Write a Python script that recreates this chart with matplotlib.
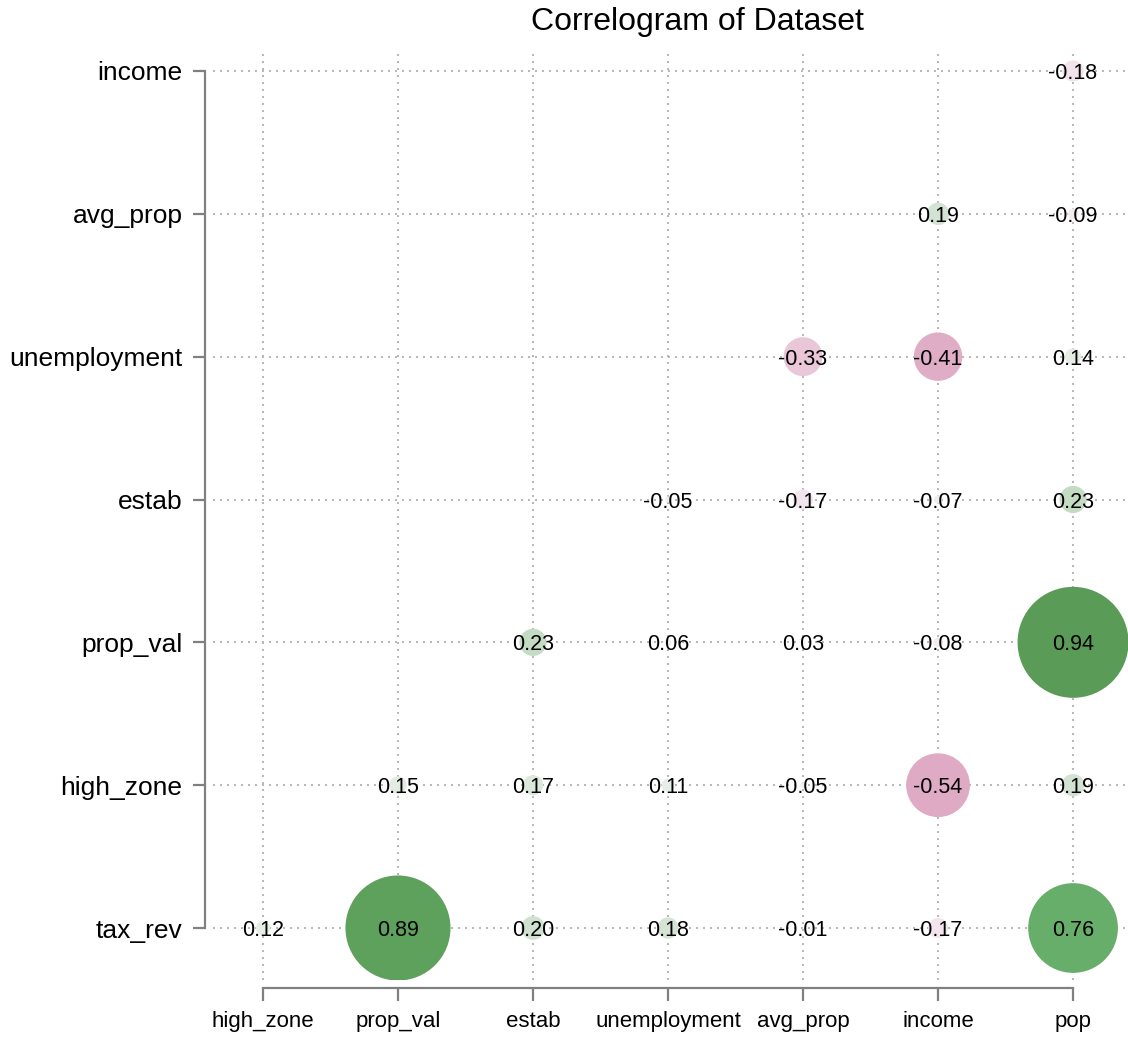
import matplotlib
matplotlib.use('Agg')
import matplotlib.pyplot as plt
from matplotlib.colors import LinearSegmentedColormap

plt.rcParams['font.family'] = ['Liberation Sans', 'DejaVu Sans']

x_labels = ['high_zone', 'prop_val', 'estab', 'unemployment', 'avg_prop', 'income', 'pop']
y_labels = ['tax_rev', 'high_zone', 'prop_val', 'estab', 'unemployment', 'avg_prop', 'income']

# (row, column, correlation)
cells = [
    ('income', 'pop', -0.18),
    ('avg_prop', 'income', 0.19),
    ('avg_prop', 'pop', -0.09),
    ('unemployment', 'avg_prop', -0.33),
    ('unemployment', 'income', -0.41),
    ('unemployment', 'pop', 0.14),
    ('estab', 'unemployment', -0.05),
    ('estab', 'avg_prop', -0.17),
    ('estab', 'income', -0.07),
    ('estab', 'pop', 0.23),
    ('prop_val', 'estab', 0.23),
    ('prop_val', 'unemployment', 0.06),
    ('prop_val', 'avg_prop', 0.03),
    ('prop_val', 'income', -0.08),
    ('prop_val', 'pop', 0.94),
    ('high_zone', 'prop_val', 0.15),
    ('high_zone', 'estab', 0.17),
    ('high_zone', 'unemployment', 0.11),
    ('high_zone', 'avg_prop', -0.05),
    ('high_zone', 'income', -0.54),
    ('high_zone', 'pop', 0.19),
    ('tax_rev', 'high_zone', 0.12),
    ('tax_rev', 'prop_val', 0.89),
    ('tax_rev', 'estab', 0.20),
    ('tax_rev', 'unemployment', 0.18),
    ('tax_rev', 'avg_prop', -0.01),
    ('tax_rev', 'income', -0.17),
    ('tax_rev', 'pop', 0.76),
]

anchors = [(-1.0, '#cf8aae'), (-0.54, '#dfaac4'), (-0.41, '#e0adc6'), (-0.33, '#e9c7d9'),
           (-0.17, '#f3e5ed'), (0.0, '#f2f2f2'), (0.15, '#e4ece4'), (0.23, '#c3dac3'),
           (0.76, '#67ae6b'), (0.94, '#5b9c58'), (1.0, '#579554')]
cmap = LinearSegmentedColormap.from_list('corr', [((v + 1) / 2, c) for v, c in anchors])

W, H = 1128, 1045
fig = plt.figure(figsize=(W / 100, H / 100), dpi=100)
ax = fig.add_axes([213 / W, 1 - 980 / H, (W - 213) / W, (980 - 49) / H])

xs = [x_labels.index(c) for r, c, v in cells]
ys = [y_labels.index(r) for r, c, v in cells]
vals = [v for r, c, v in cells]
sizes = [(85 * abs(v)) ** 2 for v in vals]
colors = [cmap((v + 1) / 2) for v in vals]

ax.scatter(xs, ys, s=sizes, c=colors, linewidths=0, zorder=3)
for x, y, v in zip(xs, ys, vals):
    ax.text(x, y, f'{v:.2f}', ha='center', va='center_baseline', fontsize=15.5,
            color='black', zorder=4)

ax.set_xticks(range(len(x_labels)))
ax.set_xticklabels(x_labels)
ax.set_yticks(range(len(y_labels)))
ax.set_yticklabels(y_labels)
ax.set_xlim(-0.37, 6.407)
ax.set_ylim(-0.364, 6.154)

ax.grid(True, linestyle=(0, (1, 2.6)), color='#b5b5b5', linewidth=1.4, zorder=0)
ax.set_axisbelow(True)

for side in ['top', 'right']:
    ax.spines[side].set_visible(False)
for side in ['left', 'bottom']:
    ax.spines[side].set_position(('outward', 6))
    ax.spines[side].set_color('#808080')
    ax.spines[side].set_linewidth(1.6)
ax.spines['left'].set_bounds(0, 6)
ax.spines['bottom'].set_bounds(0, 6)
ax.tick_params(axis='both', colors='#808080', length=9, width=1.6, labelcolor='black')
ax.tick_params(axis='y', pad=7, labelsize=19)
ax.tick_params(axis='x', pad=7, labelsize=16)

fig.text(697 / W, 1 - 22 / H, 'Correlogram of Dataset', ha='center', va='center', fontsize=23)

fig.savefig('out.png', dpi=100)
